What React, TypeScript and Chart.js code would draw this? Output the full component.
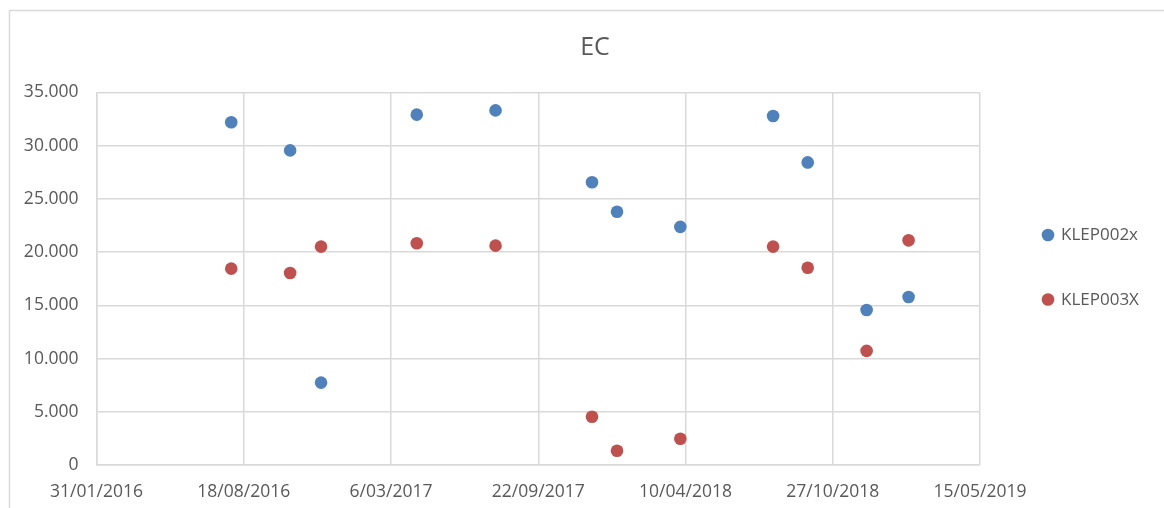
import React, { useEffect, useRef } from "react";
import { Chart, registerables } from "chart.js";

Chart.register(...registerables);

// Sample dates as Excel serial day numbers (days since 30/12/1899)
const sampleDates = [42583, 42663, 42705, 42835, 42942, 43073, 43107, 43193, 43319, 43366, 43446, 43503];
const klep002x = [32200, 29560, 7740, 32920, 33320, 26570, 23790, 22370, 32790, 28430, 14560, 15780];
const klep003X = [18450, 18040, 20520, 20830, 20610, 4540, 1340, 2470, 20520, 18540, 10720, 21110];

const seriesNames = ["KLEP002x", "KLEP003X"];
const seriesColors = ["#4F81BD", "#C0504D"];
const chartTitle = "EC";

const xMin = 42400; // 31/01/2016
const xMax = 43600; // 15/05/2019
const xStep = 200;
const yMin = 0;
const yMax = 35000;
const yStep = 5000;

const FONT = "'Open Sans', 'DejaVu Sans', sans-serif";
const TEXT = "#595959";
const GRID = "#D9D9D9";

function serialToLabel(serial: number): string {
  const d = new Date(Date.UTC(1899, 11, 30) + Math.round(serial) * 86400000);
  const day = d.getUTCDate();
  const m = d.getUTCMonth() + 1;
  const y = d.getUTCFullYear();
  return `${day}/${m < 10 ? "0" + m : m}/${y}`;
}

function formatThousands(v: number): string {
  if (v === 0) return "0";
  const s = Math.round(v).toString();
  return s.replace(/\B(?=(\d{3})+(?!\d))/g, ".") ;
}

const decorPlugin = {
  id: "decor",
  beforeDraw(chart: any) {
    const ctx = chart.ctx;
    ctx.save();
    ctx.fillStyle = "#FFFFFF";
    ctx.fillRect(0, 0, chart.width, chart.height);
    ctx.strokeStyle = GRID;
    ctx.lineWidth = 1.5;
    ctx.strokeRect(9.5, 10.5, 1180, 520);
    ctx.restore();
  },
  afterDraw(chart: any) {
    const ctx = chart.ctx;
    ctx.save();
    // title
    ctx.fillStyle = TEXT;
    ctx.font = `25px ${FONT}`;
    ctx.textAlign = "center";
    ctx.textBaseline = "alphabetic";
    ctx.fillText(chartTitle, 595, 55);
    // legend
    const ys = [235, 299.5];
    chart.data.datasets.forEach((ds: any, i: number) => {
      ctx.beginPath();
      ctx.fillStyle = ds.backgroundColor;
      ctx.arc(1048, ys[i], 6.3, 0, Math.PI * 2);
      ctx.fill();
      ctx.fillStyle = TEXT;
      ctx.font = `17px ${FONT}`;
      ctx.textAlign = "left";
      ctx.textBaseline = "middle";
      ctx.fillText(ds.label, 1061, ys[i] + 0.5);
    });
    ctx.restore();
  },
};

export default function App() {
  const ref = useRef<HTMLCanvasElement | null>(null);

  useEffect(() => {
    if (!ref.current) return;
    const mk = (vals: number[]) => sampleDates.map((x, i) => ({ x, y: vals[i] }));
    const chart = new Chart(ref.current, {
      type: "scatter",
      data: {
        datasets: [
          {
            label: seriesNames[0],
            data: mk(klep002x),
            backgroundColor: seriesColors[0],
            borderColor: seriesColors[0],
            pointRadius: 6.3,
            pointBorderWidth: 0,
          },
          {
            label: seriesNames[1],
            data: mk(klep003X),
            backgroundColor: seriesColors[1],
            borderColor: seriesColors[1],
            pointRadius: 6.3,
            pointBorderWidth: 0,
          },
        ],
      },
      options: {
        responsive: false,
        animation: false,
        devicePixelRatio: 1,
        layout: { padding: { left: 0, top: 92.5, right: 184, bottom: 0 } },
        plugins: {
          legend: { display: false },
          title: { display: false },
          tooltip: { enabled: false },
        },
        scales: {
          x: {
            type: "linear",
            min: xMin,
            max: xMax,
            afterFit: (s: any) => {
              s.height = 43;
            },
            ticks: {
              stepSize: xStep,
              color: TEXT,
              font: { family: FONT, size: 17.5 },
              padding: 17,
              maxRotation: 0,
              autoSkip: false,
              callback: (v: any) => serialToLabel(Number(v)),
            },
            grid: { color: GRID, lineWidth: 1.5, drawTicks: false },
            border: { color: GRID, width: 1.5 },
          },
          y: {
            type: "linear",
            min: yMin,
            max: yMax,
            afterFit: (s: any) => {
              s.width = 96.5;
            },
            ticks: {
              stepSize: yStep,
              color: TEXT,
              font: { family: FONT, size: 17.5 },
              padding: 18,
              callback: (v: any) => formatThousands(Number(v)),
            },
            grid: { color: GRID, lineWidth: 1.5, drawTicks: false },
            border: { color: GRID, width: 1.5 },
          },
        },
      },
      plugins: [decorPlugin],
    });
    return () => chart.destroy();
  }, []);

  return (
    <div style={{ position: "fixed", left: 0, top: 0, width: 1164, height: 508, background: "#fff" }}>
      <canvas ref={ref} width={1164} height={508} style={{ display: "block" }} />
    </div>
  );
}
